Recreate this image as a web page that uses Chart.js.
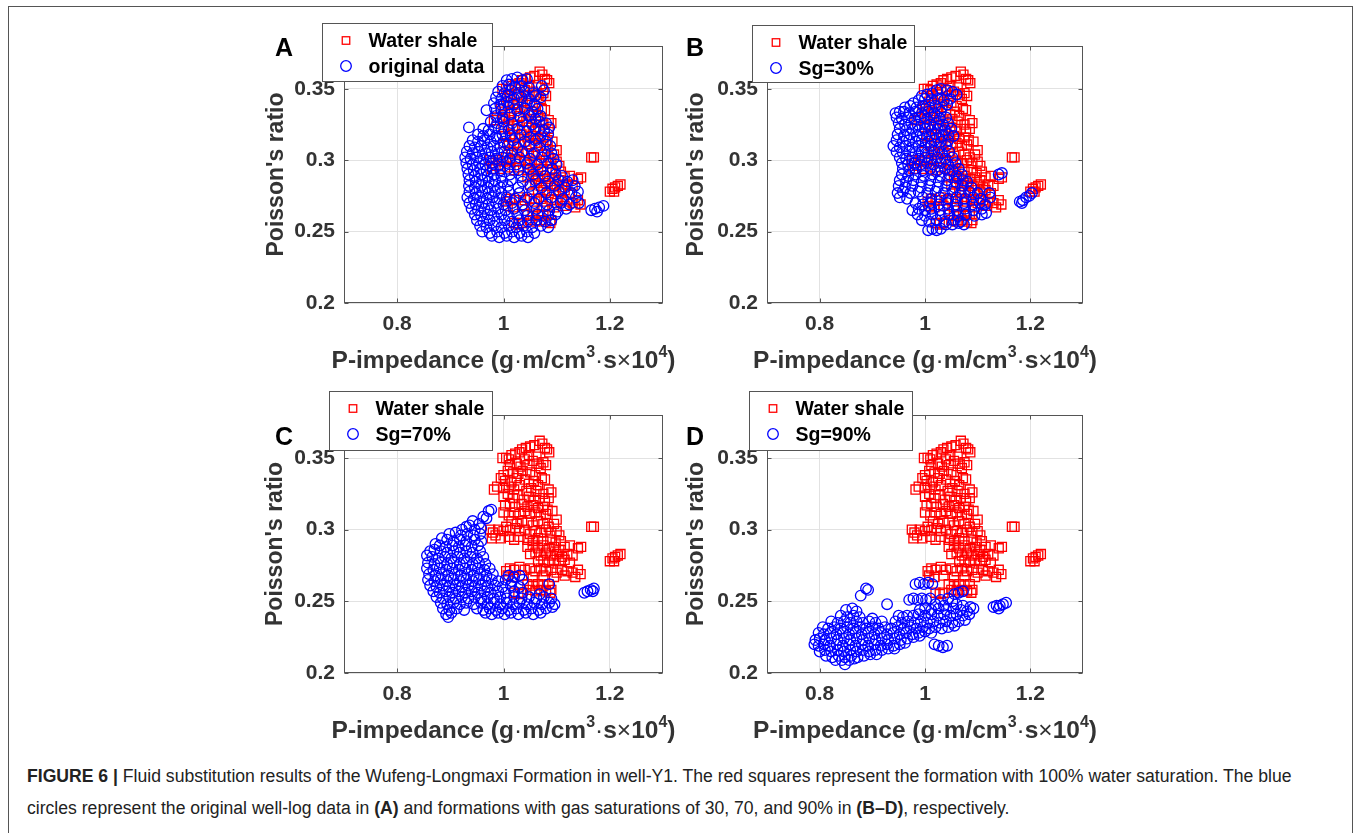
<!DOCTYPE html>
<html>
<head>
<meta charset="utf-8">
<script src="https://cdn.jsdelivr.net/npm/chart.js@4.4.1/dist/chart.umd.min.js"></script>
<style>
html, body { margin: 0; padding: 0; background: #fff; }
body { width: 1356px; height: 833px; position: relative; overflow: hidden; font-family: "Liberation Sans", Arial, Helvetica, sans-serif; }
#frame { position: absolute; left: 8px; top: 6px; width: 1345px; height: 900px; border: 1px solid #555; box-sizing: border-box; }
canvas { position: absolute; }
.cap { position: absolute; left: 27px; font-size: 17.6px; line-height: 20px; color: #222; white-space: nowrap; }
</style>
</head>
<body>
<div id="frame"></div>
<canvas id="cA"></canvas>
<canvas id="cB"></canvas>
<canvas id="cC"></canvas>
<canvas id="cD"></canvas>
<div class="cap" style="top:766px"><b>FIGURE 6 |</b> Fluid substitution results of the Wufeng-Longmaxi Formation in well-Y1. The red squares represent the formation with 100% water saturation. The blue</div>
<div class="cap" style="top:798px">circles represent the original well-log data in <b>(A)</b> and formations with gas saturations of 30, 70, and 90% in <b>(B–D)</b>, respectively.</div>
<script>
// ---- axis ticks ----
const xTicks = [0.8, 1.0, 1.2];
const xTickLabels = ['0.8', '1', '1.2'];
const yTicks = [0.2, 0.25, 0.3, 0.35];
const yTickLabels = ['0.2', '0.25', '0.3', '0.35'];

// ---- series: [P-impedance (x1e4), Poisson's ratio] ----
const waterShale = [
  [1.068,0.362],[1.073,0.360],[1.058,0.359],[1.050,0.358],[1.082,0.356],[1.078,0.357],
  [1.042,0.357],[1.035,0.356],[1.030,0.354],[1.086,0.354],[1.022,0.353],[1.015,0.352],[1.048,0.352],[1.062,0.351],
  [0.998,0.350],[1.005,0.350],[1.010,0.349],[1.040,0.349],[1.055,0.348],[1.075,0.347],[1.066,0.346],
  [1.012,0.345],[1.025,0.346],[1.032,0.344],[1.045,0.345],[1.070,0.343],[1.080,0.345],
  [1.000,0.338],[1.008,0.341],[1.018,0.340],[1.028,0.339],[1.036,0.341],[1.050,0.340],[1.060,0.338],[1.072,0.336],[1.078,0.335],
  [0.995,0.336],[1.003,0.334],[1.015,0.333],[1.025,0.336],[1.040,0.335],[1.048,0.332],[1.057,0.334],[1.065,0.331],
  [0.982,0.328],[0.988,0.330],[1.000,0.329],[1.010,0.330],[1.020,0.328],[1.030,0.331],[1.043,0.327],[1.052,0.329],[1.062,0.327],[1.075,0.325],[1.085,0.328],[1.090,0.326],
  [1.000,0.323],[1.008,0.325],[1.018,0.322],[1.028,0.324],[1.038,0.321],[1.048,0.323],[1.058,0.320],[1.068,0.322],[1.078,0.320],[1.085,0.322],
  [1.003,0.317],[1.012,0.318],[1.022,0.316],[1.034,0.318],[1.045,0.316],[1.055,0.317],[1.065,0.315],[1.075,0.316],[1.083,0.314],
  [1.000,0.312],[1.010,0.310],[1.020,0.312],[1.030,0.311],[1.040,0.313],[1.050,0.311],[1.060,0.312],[1.070,0.310],[1.080,0.311],[1.092,0.313],[1.100,0.307],
  [1.015,0.306],[1.025,0.304],[1.035,0.306],[1.045,0.305],[1.055,0.303],[1.065,0.306],[1.075,0.304],[1.085,0.302],[1.095,0.304],
  [0.975,0.300],[0.980,0.298],[0.985,0.296],[0.990,0.300],[1.000,0.299],[1.005,0.302],[1.012,0.300],[1.022,0.301],[1.030,0.299],[1.040,0.300],[1.050,0.297],[1.060,0.299],[1.070,0.298],[1.080,0.300],[1.090,0.298],[1.100,0.299],[1.105,0.296],
  [0.978,0.294],[0.995,0.294],[1.010,0.295],[1.020,0.293],[1.030,0.295],[1.045,0.293],[1.055,0.292],[1.065,0.294],[1.075,0.292],[1.088,0.293],[1.098,0.291],[1.108,0.292],
  [1.045,0.288],[1.055,0.289],[1.065,0.287],[1.075,0.289],[1.085,0.287],[1.095,0.288],[1.105,0.286],[1.115,0.288],[1.125,0.289],[1.140,0.287],[1.146,0.288],
  [1.050,0.283],[1.060,0.284],[1.070,0.282],[1.080,0.284],[1.090,0.282],[1.100,0.283],[1.110,0.281],[1.120,0.283],[1.130,0.282],
  [1.065,0.278],[1.075,0.279],[1.085,0.277],[1.095,0.279],[1.105,0.278],[1.115,0.279],[1.125,0.277],
  [1.005,0.271],[1.012,0.273],[1.020,0.272],[1.030,0.274],[1.040,0.272],[1.050,0.273],[1.060,0.271],[1.070,0.273],[1.080,0.271],[1.090,0.272],[1.100,0.270],[1.110,0.272],[1.120,0.271],[1.130,0.270],[1.140,0.272],[1.145,0.269],
  [1.008,0.268],[1.018,0.267],[1.035,0.268],[1.055,0.267],[1.075,0.268],[1.095,0.267],[1.115,0.268],[1.135,0.267],
  [1.045,0.262],[1.055,0.261],[1.065,0.262],[1.075,0.261],[1.085,0.262],[1.050,0.258],[1.060,0.257],[1.070,0.258],[1.080,0.257],[1.090,0.258],[1.088,0.256],
  [1.020,0.256],[1.028,0.255],[1.035,0.256],
  [1.165,0.302],[1.170,0.302],
  [1.200,0.278],[1.205,0.280],[1.210,0.281],[1.215,0.282],[1.220,0.283],[1.208,0.278]
];

const originalData = [
  [1.006,0.356],[1.016,0.357],[1.026,0.358],[1.036,0.356],[1.044,0.357],
  [0.998,0.352],[1.010,0.353],[1.022,0.351],[1.034,0.352],[1.048,0.351],[1.072,0.352],
  [0.990,0.348],[1.002,0.347],[1.014,0.349],[1.028,0.347],[1.040,0.348],[1.056,0.347],[1.076,0.349],
  [0.986,0.344],[0.996,0.343],[1.008,0.345],[1.020,0.343],[1.034,0.344],[1.048,0.343],[1.060,0.345],[1.070,0.344],
  [0.982,0.340],[0.994,0.339],[1.006,0.341],[1.020,0.339],[1.044,0.340],[1.058,0.339],
  [0.968,0.335],[0.984,0.336],[0.996,0.335],[1.010,0.337],[1.026,0.335],[1.040,0.336],[1.054,0.334],[1.064,0.336],
  [0.986,0.331],[0.998,0.330],[1.012,0.332],[1.032,0.330],[1.048,0.331],[1.060,0.329],[1.070,0.331],
  [0.976,0.327],[0.988,0.326],[1.000,0.327],[1.016,0.326],[1.036,0.327],[1.054,0.325],[1.068,0.327],[1.080,0.326],
  [0.935,0.323],[0.962,0.322],[0.972,0.321],[0.984,0.323],[0.996,0.322],[1.010,0.321],[1.026,0.322],[1.044,0.320],[1.060,0.322],[1.076,0.321],[1.086,0.323],
  [0.952,0.318],[0.962,0.317],[0.974,0.318],[0.986,0.317],[0.998,0.318],[1.014,0.317],[1.032,0.318],[1.050,0.316],[1.070,0.317],[1.084,0.318],
  [0.942,0.314],[0.952,0.313],[0.964,0.314],[0.976,0.313],[0.988,0.315],[1.000,0.313],[1.018,0.314],[1.040,0.313],[1.060,0.314],[1.080,0.313],
  [0.936,0.310],[0.946,0.309],[0.958,0.310],[0.970,0.309],[0.982,0.310],[0.994,0.309],[1.008,0.311],[1.026,0.309],[1.048,0.310],[1.068,0.309],[1.088,0.310],
  [0.931,0.306],[0.942,0.305],[0.954,0.306],[0.966,0.305],[0.978,0.306],[0.990,0.305],[1.002,0.306],[1.016,0.305],[1.036,0.306],[1.058,0.305],[1.078,0.306],[1.090,0.305],
  [0.928,0.302],[0.938,0.301],[0.950,0.302],[0.962,0.301],[0.974,0.302],[0.986,0.301],[0.998,0.302],[1.012,0.301],[1.030,0.302],[1.050,0.301],[1.072,0.302],[1.094,0.301],
  [0.930,0.298],[0.942,0.297],[0.954,0.298],[0.966,0.297],[0.978,0.298],[0.992,0.297],[1.006,0.298],[1.024,0.297],[1.044,0.298],[1.064,0.297],[1.084,0.298],[1.100,0.297],
  [0.932,0.294],[0.944,0.293],[0.956,0.294],[0.968,0.293],[0.980,0.294],[0.994,0.293],[1.008,0.294],[1.028,0.293],[1.050,0.294],[1.070,0.293],[1.092,0.294],
  [0.934,0.290],[0.946,0.289],[0.958,0.290],[0.970,0.289],[0.982,0.290],[0.996,0.289],[1.012,0.290],[1.034,0.289],[1.056,0.290],[1.078,0.289],[1.098,0.290],[1.110,0.289],
  [0.936,0.286],[0.948,0.285],[0.960,0.286],[0.972,0.285],[0.984,0.286],[0.998,0.285],[1.014,0.286],[1.036,0.285],[1.060,0.286],[1.084,0.285],[1.104,0.286],[1.120,0.285],[1.130,0.286],
  [0.935,0.282],[0.946,0.281],[0.958,0.282],[0.970,0.281],[0.982,0.282],[0.994,0.281],[1.008,0.282],[1.028,0.281],[1.050,0.282],[1.072,0.281],[1.096,0.282],[1.116,0.281],[1.134,0.282],
  [0.936,0.278],[0.948,0.277],[0.960,0.278],[0.972,0.277],[0.984,0.278],[0.996,0.277],[1.010,0.278],[1.030,0.277],[1.054,0.278],[1.080,0.277],[1.104,0.278],[1.128,0.277],[1.140,0.278],
  [0.932,0.274],[0.944,0.273],[0.956,0.274],[0.968,0.273],[0.980,0.274],[0.992,0.273],[1.006,0.274],[1.022,0.273],[1.044,0.274],[1.066,0.273],[1.090,0.274],[1.112,0.273],[1.136,0.274],
  [0.936,0.270],[0.948,0.269],[0.960,0.270],[0.972,0.269],[0.986,0.270],[1.000,0.269],[1.016,0.270],[1.036,0.269],[1.058,0.270],[1.082,0.269],[1.108,0.270],[1.124,0.269],[1.142,0.270],
  [0.940,0.266],[0.952,0.265],[0.964,0.266],[0.976,0.265],[0.990,0.266],[1.004,0.265],[1.020,0.266],[1.040,0.265],[1.062,0.266],[1.086,0.265],[1.102,0.264],[1.118,0.266],
  [0.946,0.262],[0.958,0.261],[0.970,0.262],[0.982,0.261],[0.996,0.262],[1.010,0.261],[1.026,0.262],[1.044,0.261],[1.064,0.262],[1.084,0.261],[1.098,0.262],
  [0.950,0.258],[0.962,0.257],[0.974,0.258],[0.988,0.257],[1.002,0.258],[1.016,0.257],[1.030,0.258],[1.046,0.257],[1.062,0.258],[1.078,0.257],[1.090,0.258],
  [0.956,0.254],[0.968,0.253],[0.982,0.254],[0.996,0.253],[1.010,0.254],[1.024,0.253],[1.038,0.254],[1.054,0.253],[1.070,0.254],[1.084,0.253],
  [0.960,0.250],[0.974,0.249],[0.988,0.250],[1.002,0.249],[1.016,0.250],[1.030,0.249],[1.044,0.250],[1.058,0.249],
  [0.978,0.247],[0.992,0.246],[1.006,0.247],[1.020,0.246],[1.034,0.247],[1.046,0.246],
  [1.165,0.265],[1.172,0.266],[1.180,0.267],[1.188,0.268],[1.176,0.264]
];

const sg30 = [
  [1.022,0.349],[1.030,0.350],[1.042,0.349],[1.052,0.348],
  [0.994,0.345],[1.004,0.346],[1.014,0.347],[1.060,0.346],
  [0.978,0.340],[0.988,0.342],[1.000,0.343],[1.012,0.342],[1.024,0.343],[1.036,0.342],[1.048,0.343],
  [0.962,0.337],[0.972,0.338],[0.984,0.337],[0.996,0.338],[1.008,0.337],[1.020,0.338],[1.032,0.337],[1.042,0.339],
  [0.944,0.333],[0.952,0.334],[0.960,0.334],[0.970,0.333],[0.982,0.334],[0.994,0.333],[1.006,0.334],[1.018,0.333],[1.030,0.334],
  [0.946,0.330],[0.956,0.329],[0.968,0.330],[0.980,0.329],[0.992,0.330],[1.004,0.329],[1.016,0.330],[1.028,0.329],[1.040,0.330],
  [0.950,0.326],[0.962,0.325],[0.974,0.326],[0.986,0.325],[0.998,0.326],[1.010,0.325],[1.022,0.326],[1.034,0.325],[1.044,0.326],
  [0.952,0.322],[0.964,0.321],[0.976,0.322],[0.988,0.321],[1.000,0.322],[1.012,0.321],[1.024,0.322],[1.038,0.321],[1.050,0.322],
  [0.948,0.318],[0.960,0.317],[0.972,0.318],[0.984,0.317],[0.996,0.318],[1.008,0.317],[1.020,0.318],[1.032,0.317],[1.044,0.318],[1.054,0.317],
  [0.946,0.314],[0.958,0.313],[0.970,0.314],[0.982,0.313],[0.994,0.314],[1.006,0.313],[1.018,0.314],[1.030,0.313],[1.044,0.314],
  [0.940,0.310],[0.952,0.309],[0.964,0.310],[0.976,0.309],[0.988,0.310],[1.000,0.309],[1.012,0.310],[1.026,0.309],[1.040,0.310],
  [0.946,0.306],[0.958,0.305],[0.970,0.306],[0.982,0.305],[0.994,0.306],[1.006,0.305],[1.018,0.306],[1.032,0.305],[1.046,0.306],
  [0.952,0.302],[0.964,0.301],[0.976,0.302],[0.988,0.301],[1.000,0.302],[1.012,0.301],[1.024,0.302],[1.038,0.301],[1.052,0.302],
  [0.956,0.298],[0.968,0.297],[0.980,0.298],[0.992,0.297],[1.004,0.298],[1.016,0.297],[1.030,0.298],[1.044,0.297],[1.058,0.298],
  [0.958,0.294],[0.970,0.293],[0.982,0.294],[0.996,0.293],[1.010,0.294],[1.024,0.293],[1.038,0.294],[1.052,0.293],[1.064,0.294],
  [0.956,0.290],[0.968,0.289],[0.982,0.290],[0.998,0.289],[1.014,0.290],[1.030,0.289],[1.046,0.290],[1.060,0.289],[1.070,0.290],[1.140,0.290],[1.146,0.291],
  [0.952,0.286],[0.964,0.285],[0.978,0.286],[0.994,0.285],[1.010,0.286],[1.026,0.285],[1.042,0.286],[1.058,0.285],[1.072,0.286],[1.080,0.285],
  [0.950,0.282],[0.962,0.281],[0.976,0.282],[0.992,0.281],[1.008,0.282],[1.024,0.281],[1.040,0.282],[1.056,0.281],[1.072,0.282],[1.088,0.281],
  [0.948,0.277],[0.958,0.278],[0.972,0.277],[0.988,0.278],[1.004,0.277],[1.020,0.278],[1.036,0.277],[1.052,0.278],[1.068,0.277],[1.084,0.278],[1.100,0.277],[1.122,0.277],
  [0.952,0.274],[0.966,0.273],[0.996,0.274],[1.012,0.273],[1.028,0.274],[1.044,0.273],[1.060,0.274],[1.076,0.273],[1.092,0.274],[1.106,0.273],[1.124,0.274],
  [0.982,0.270],[0.996,0.269],[1.010,0.270],[1.026,0.269],[1.042,0.270],[1.058,0.269],[1.074,0.270],[1.090,0.269],[1.104,0.270],[1.114,0.269],
  [0.976,0.265],[0.988,0.266],[1.000,0.265],[1.012,0.266],[1.028,0.265],[1.044,0.266],[1.060,0.265],[1.076,0.266],[1.092,0.265],[1.108,0.266],[1.116,0.263],
  [0.986,0.262],[1.000,0.261],[1.014,0.262],[1.030,0.261],[1.046,0.262],[1.062,0.261],[1.078,0.262],[1.094,0.261],[1.108,0.262],
  [0.994,0.258],[1.008,0.257],[1.022,0.258],[1.038,0.257],[1.054,0.258],[1.068,0.257],
  [1.040,0.255],[1.052,0.255],[1.064,0.256],[1.074,0.255],
  [1.006,0.251],[1.014,0.252],[1.022,0.251],[1.030,0.252],
  [1.180,0.271],[1.186,0.272],[1.192,0.274],[1.198,0.275],[1.203,0.277],[1.184,0.270]
];

const sg70 = [
  [0.972,0.313],[0.977,0.314],
  [0.962,0.309],[0.968,0.308],
  [0.942,0.306],[0.954,0.304],[0.936,0.303],
  [0.922,0.300],[0.930,0.302],[0.946,0.300],[0.958,0.301],
  [0.898,0.297],[0.910,0.298],[0.920,0.296],[0.932,0.297],[0.944,0.296],[0.956,0.297],
  [0.884,0.294],[0.894,0.293],[0.906,0.292],[0.918,0.293],[0.930,0.292],[0.946,0.293],[0.958,0.292],
  [0.872,0.290],[0.880,0.289],[0.892,0.288],[0.904,0.289],[0.916,0.288],[0.928,0.289],[0.940,0.288],[0.952,0.289],
  [0.862,0.285],[0.870,0.286],[0.882,0.285],[0.894,0.284],[0.906,0.285],[0.918,0.284],[0.930,0.285],[0.942,0.284],[0.956,0.285],
  [0.856,0.282],[0.866,0.281],[0.878,0.280],[0.890,0.281],[0.902,0.280],[0.914,0.281],[0.926,0.280],[0.938,0.281],[0.950,0.280],[0.962,0.281],
  [0.858,0.277],[0.870,0.276],[0.882,0.277],[0.894,0.276],[0.906,0.277],[0.918,0.276],[0.930,0.277],[0.942,0.276],[0.954,0.277],[0.966,0.276],
  [0.856,0.273],[0.868,0.272],[0.880,0.273],[0.892,0.272],[0.904,0.273],[0.916,0.272],[0.928,0.273],[0.940,0.272],[0.952,0.273],[0.964,0.272],[0.974,0.273],
  [0.860,0.269],[0.872,0.268],[0.884,0.269],[0.896,0.268],[0.908,0.269],[0.920,0.268],[0.932,0.269],[0.944,0.268],[0.956,0.269],[0.968,0.268],[0.980,0.269],[1.010,0.268],[1.020,0.267],[1.030,0.268],
  [0.858,0.265],[0.870,0.264],[0.882,0.265],[0.894,0.264],[0.906,0.265],[0.918,0.264],[0.930,0.265],[0.942,0.264],[0.954,0.265],[0.966,0.264],[0.978,0.265],[0.990,0.264],[1.004,0.265],[1.016,0.264],[1.036,0.265],
  [0.862,0.261],[0.874,0.260],[0.886,0.261],[0.898,0.260],[0.910,0.261],[0.922,0.260],[0.934,0.261],[0.946,0.260],[0.958,0.261],[0.970,0.260],[0.984,0.261],[0.998,0.260],[1.014,0.261],[1.030,0.260],[1.086,0.262],
  [0.868,0.257],[0.880,0.256],[0.892,0.257],[0.904,0.256],[0.916,0.257],[0.928,0.256],[0.940,0.257],[0.952,0.256],[0.964,0.257],[0.976,0.256],[0.990,0.257],[1.004,0.256],[1.020,0.257],[1.036,0.256],[1.068,0.255],
  [0.874,0.253],[0.886,0.252],[0.898,0.253],[0.910,0.252],[0.922,0.253],[0.934,0.252],[0.946,0.253],[0.958,0.252],[0.970,0.253],[0.982,0.252],[0.994,0.253],[1.006,0.252],[1.020,0.253],[1.034,0.252],[1.048,0.253],[1.062,0.252],[1.076,0.253],[1.090,0.252],
  [0.882,0.249],[0.894,0.248],[0.906,0.249],[0.918,0.248],[0.930,0.249],[0.944,0.248],[0.958,0.249],[0.970,0.248],[0.982,0.249],[0.994,0.248],[1.006,0.249],[1.018,0.248],[1.030,0.249],[1.044,0.248],[1.058,0.249],[1.072,0.248],[1.086,0.249],[1.096,0.248],
  [0.886,0.245],[0.898,0.244],[0.912,0.245],[0.926,0.244],[0.950,0.245],[0.962,0.244],[0.974,0.245],[0.986,0.244],[0.998,0.245],[1.010,0.244],[1.024,0.245],[1.038,0.244],[1.052,0.245],[1.066,0.244],[1.080,0.245],[1.092,0.246],
  [0.892,0.241],[0.902,0.242],[0.966,0.242],[0.978,0.241],[0.990,0.242],[1.002,0.241],[1.014,0.242],[1.028,0.241],[1.042,0.242],[1.056,0.241],[1.070,0.242],
  [0.896,0.239],
  [1.152,0.256],[1.158,0.257],[1.164,0.258],[1.170,0.259],[1.168,0.257]
];

const sg90 = [
  [0.982,0.262],[0.990,0.263],[0.998,0.262],[1.006,0.263],[1.014,0.262],
  [0.888,0.259],[0.892,0.258],
  [0.878,0.254],[1.056,0.255],[1.064,0.256],[1.072,0.257],
  [0.970,0.251],[0.978,0.252],[0.986,0.251],[0.994,0.252],[1.002,0.251],[1.010,0.252],[1.030,0.251],[1.044,0.252],[1.052,0.250],
  [0.928,0.248],[1.020,0.248],[1.036,0.247],[1.060,0.248],[1.072,0.247],[1.086,0.246],
  [0.850,0.244],[0.862,0.245],[0.870,0.243],[0.990,0.244],[1.000,0.245],[1.012,0.244],[1.026,0.245],[1.040,0.244],[1.054,0.245],[1.068,0.244],[1.080,0.243],[1.092,0.245],
  [0.840,0.240],[0.852,0.239],[0.864,0.240],[0.876,0.239],[0.900,0.238],[0.950,0.240],[0.958,0.239],[0.966,0.240],[0.978,0.240],[0.988,0.241],[1.000,0.240],[1.012,0.241],[1.024,0.240],[1.036,0.241],[1.048,0.240],[1.060,0.241],[1.072,0.240],[1.084,0.241],
  [0.822,0.236],[0.834,0.235],[0.846,0.236],[0.858,0.235],[0.870,0.236],[0.882,0.235],[0.894,0.236],[0.906,0.235],[0.918,0.236],[0.944,0.236],[0.956,0.235],[0.968,0.236],[0.980,0.235],[0.992,0.236],[1.004,0.235],[1.016,0.236],[1.028,0.235],[1.040,0.236],[1.052,0.235],[1.064,0.236],[1.076,0.237],
  [0.806,0.232],[0.816,0.231],[0.828,0.232],[0.840,0.231],[0.852,0.232],[0.864,0.231],[0.876,0.232],[0.888,0.231],[0.900,0.232],[0.912,0.231],[0.924,0.232],[0.936,0.231],[0.948,0.232],[0.960,0.231],[0.972,0.232],[0.984,0.231],[0.996,0.232],[1.008,0.231],[1.020,0.232],[1.032,0.231],[1.044,0.232],[1.056,0.233],
  [0.798,0.228],[0.808,0.227],[0.820,0.228],[0.832,0.227],[0.844,0.228],[0.856,0.227],[0.868,0.228],[0.880,0.227],[0.892,0.228],[0.904,0.227],[0.916,0.228],[0.928,0.227],[0.940,0.228],[0.952,0.227],[0.964,0.228],[0.976,0.227],[0.988,0.228],[1.000,0.229],[1.012,0.228],
  [0.792,0.223],[0.800,0.224],[0.810,0.223],[0.822,0.224],[0.834,0.223],[0.846,0.224],[0.858,0.223],[0.870,0.224],[0.882,0.223],[0.894,0.224],[0.906,0.223],[0.918,0.224],[0.930,0.223],[0.942,0.224],[0.954,0.223],[0.966,0.224],[0.978,0.225],[0.990,0.226],
  [0.790,0.220],[0.798,0.219],[0.808,0.220],[0.820,0.219],[0.832,0.220],[0.844,0.219],[0.856,0.220],[0.868,0.219],[0.880,0.220],[0.892,0.219],[0.904,0.220],[0.916,0.219],[0.928,0.220],[0.940,0.219],[0.952,0.220],[0.962,0.221],[1.018,0.220],[1.026,0.219],[1.034,0.218],[1.042,0.219],
  [0.800,0.215],[0.810,0.216],[0.822,0.215],[0.834,0.216],[0.846,0.215],[0.858,0.216],[0.870,0.215],[0.882,0.216],[0.894,0.215],[0.906,0.216],[0.918,0.216],[0.930,0.217],[0.942,0.217],
  [0.812,0.212],[0.824,0.211],[0.836,0.212],[0.848,0.211],[0.860,0.212],[0.872,0.211],[0.884,0.212],[0.896,0.213],[0.908,0.213],
  [0.830,0.209],[0.842,0.209],[0.856,0.209],[0.866,0.210],[0.848,0.206],
  [1.130,0.246],[1.136,0.247],[1.142,0.247],[1.148,0.248],[1.154,0.249],[1.140,0.245]
];

// ---- styling ----
const FONT = '"Liberation Sans", Arial, Helvetica, sans-serif';
const AXIS_COLOR = '#555';
const TEXT_COLOR = '#333';
const GRID_COLOR = '#e2e2e2';
const RED = '#ff0000';
const BLUE = '#0000ff';
const MARKER_LINE = 1.3;

// x-axis title pieces; superscripts are drawn smaller and raised
const xTitleParts = [
  { t: 'P-impedance (g' }, { t: '·', light: true }, { t: 'm/cm' }, { t: '3', sup: true },
  { t: '·', light: true }, { t: 's' }, { t: '×', light: true }, { t: '10' }, { t: '4', sup: true }, { t: ')' }
];

// page layout of the four panels (absolute pixels)
const panels = [
  { id: 'cA', letter: 'A', blue: originalData, blueLabel: 'original data', plot: [344, 46, 663, 303], yTitleX: 277, legend: [322, 23, 170, 58], letterXY: [284, 49] },
  { id: 'cB', letter: 'B', blue: sg30, blueLabel: 'Sg=30%', plot: [767, 46, 1083, 303], yTitleX: 697, legend: [752, 25, 162, 57], letterXY: [695, 49] },
  { id: 'cC', letter: 'C', blue: sg70, blueLabel: 'Sg=70%', plot: [344, 415, 663, 673], yTitleX: 276, legend: [329, 391, 163, 59], letterXY: [284, 438] },
  { id: 'cD', letter: 'D', blue: sg90, blueLabel: 'Sg=90%', plot: [767, 415, 1083, 673], yTitleX: 697, legend: [749, 391, 163, 59], letterXY: [695, 438] }
];

const PAD_L = 100, PAD_T = 42, PAD_R = 30, PAD_B = 90;

function drawRect(ctx, x, y, side) {
  ctx.strokeRect(x - side / 2, y - side / 2, side, side);
}
function drawCircle(ctx, x, y, r) {
  ctx.beginPath(); ctx.arc(x, y, r, 0, Math.PI * 2); ctx.stroke();
}

const panelDecor = {
  id: 'panelDecor',
  afterDatasetsDraw(chart) {
    const { ctx, chartArea: a } = chart;
    const L = Math.round(a.left) + 0.5, T = Math.round(a.top) + 0.5;
    const R = Math.round(a.right) - 0.5, B = Math.round(a.bottom) - 0.5;
    ctx.save();
    ctx.strokeStyle = AXIS_COLOR;
    ctx.lineWidth = 1;
    ctx.strokeRect(L, T, R - L, B - T);
    const xs = chart.scales.x, ys = chart.scales.y;
    ctx.beginPath();
    xs.ticks.forEach(t => {
      const px = Math.round(xs.getPixelForValue(t.value)) + 0.5;
      ctx.moveTo(px, B); ctx.lineTo(px, B - 4);
      ctx.moveTo(px, T); ctx.lineTo(px, T + 4);
    });
    ys.ticks.forEach(t => {
      const py = Math.round(ys.getPixelForValue(t.value)) + 0.5;
      ctx.moveTo(L, py); ctx.lineTo(L + 4, py);
      ctx.moveTo(R, py); ctx.lineTo(R - 4, py);
    });
    ctx.stroke();
    ctx.restore();
  },
  afterDraw(chart, args, o) {
    const { ctx, chartArea: a } = chart;
    ctx.save();
    // x-axis title with superscripts
    const size = 24.5, supSize = 16;
    const fontOf = p => `${p.light ? 'normal' : 'bold'} ${p.sup ? supSize : size}px ${FONT}`;
    const widths = xTitleParts.map(p => { ctx.font = fontOf(p); return ctx.measureText(p.t).width; });
    const total = widths.reduce((s, w) => s + w, 0);
    let x = (a.left + a.right) / 2 - total / 2;
    const base = a.bottom + 65;
    ctx.fillStyle = TEXT_COLOR;
    ctx.textBaseline = 'alphabetic';
    ctx.textAlign = 'left';
    xTitleParts.forEach((p, i) => {
      ctx.font = fontOf(p);
      ctx.fillText(p.t, x, p.sup ? base - 11 : base);
      x += widths[i];
    });

    // legend box
    const [lx, ly, lw, lh] = o.legend;
    ctx.fillStyle = '#fff';
    ctx.fillRect(lx, ly, lw, lh);
    ctx.strokeStyle = AXIS_COLOR;
    ctx.lineWidth = 1;
    ctx.strokeRect(Math.round(lx) + 0.5, Math.round(ly) + 0.5, Math.round(lw), Math.round(lh));
    const ds = chart.data.datasets;
    const rows = [ly + 17.5, ly + 43];
    ctx.lineWidth = MARKER_LINE;
    ctx.strokeStyle = RED; drawRect(ctx, lx + 24, rows[0], 7.5);
    ctx.strokeStyle = BLUE; drawCircle(ctx, lx + 24, rows[1], 5.3);
    ctx.fillStyle = '#000';
    ctx.font = `bold 19.5px ${FONT}`;
    ctx.fillText(ds[0].label, lx + 46.5, rows[0] + 6.5);
    ctx.fillText(ds[1].label, lx + 46.5, rows[1] + 6.5);

    // panel letter
    ctx.font = `bold 25px ${FONT}`;
    ctx.textAlign = 'center';
    ctx.textBaseline = 'middle';
    ctx.fillText(o.letter, o.letterXY[0], o.letterXY[1]);
    ctx.restore();
  }
};

function makePanel(p) {
  const [pl, pt, pr, pb] = p.plot;
  const cl = pl - PAD_L, ct = pt - PAD_T;
  const cw = pr - pl + PAD_L + PAD_R, ch = pb - pt + PAD_T + PAD_B;
  const cv = document.getElementById(p.id);
  cv.width = cw; cv.height = ch;
  cv.style.left = cl + 'px'; cv.style.top = ct + 'px';
  cv.style.width = cw + 'px'; cv.style.height = ch + 'px';
  const yTitleSize = 23;
  const titlePad = (p.yTitleX - cl) - yTitleSize * 1.2 / 2;

  new Chart(cv, {
    type: 'scatter',
    data: {
      datasets: [
        { label: 'Water shale', data: waterShale.map(([x, y]) => ({ x, y })), pointStyle: 'rect',
          pointRadius: 6.4, pointHoverRadius: 6.4, borderColor: RED, backgroundColor: 'rgba(0,0,0,0)', borderWidth: MARKER_LINE, order: 2 },
        { label: p.blueLabel, data: p.blue.map(([x, y]) => ({ x, y })), pointStyle: 'circle',
          pointRadius: 5.3, pointHoverRadius: 5.3, borderColor: BLUE, backgroundColor: 'rgba(0,0,0,0)', borderWidth: MARKER_LINE, order: 1 }
      ]
    },
    options: {
      responsive: false,
      animation: false,
      devicePixelRatio: 1,
      events: [],
      layout: { padding: { left: 0, top: PAD_T, right: PAD_R, bottom: 0 } },
      plugins: {
        legend: { display: false },
        tooltip: { enabled: false },
        panelDecor: {
          letter: p.letter,
          letterXY: [p.letterXY[0] - cl, p.letterXY[1] - ct],
          legend: [p.legend[0] - cl, p.legend[1] - ct, p.legend[2], p.legend[3]]
        }
      },
      scales: {
        x: {
          type: 'linear', position: 'bottom', min: 0.7, max: 1.3,
          afterFit(s) { s.height = PAD_B; },
          afterBuildTicks(s) { s.ticks = xTicks.map(v => ({ value: v })); },
          ticks: { callback: (v, i) => xTickLabels[i], font: { family: FONT, weight: 'bold', size: 21 }, color: TEXT_COLOR, padding: 9, maxRotation: 0, autoSkip: false },
          grid: { color: GRID_COLOR, lineWidth: 1, drawTicks: false },
          border: { display: false }
        },
        y: {
          type: 'linear', position: 'left', min: 0.2, max: 0.38,
          afterFit(s) { s.width = PAD_L; },
          afterBuildTicks(s) { s.ticks = yTicks.map(v => ({ value: v })); },
          ticks: { callback: (v, i) => yTickLabels[i], font: { family: FONT, weight: 'bold', size: 21 }, color: TEXT_COLOR, padding: 9, autoSkip: false },
          grid: { color: GRID_COLOR, lineWidth: 1, drawTicks: false },
          border: { display: false },
          title: { display: true, text: "Poisson's ratio", font: { family: FONT, weight: 'bold', size: yTitleSize, lineHeight: 1.2 }, color: TEXT_COLOR, padding: { top: titlePad, bottom: 0 } }
        }
      }
    },
    plugins: [panelDecor]
  });
}

panels.forEach(makePanel);
</script>
</body>
</html>
